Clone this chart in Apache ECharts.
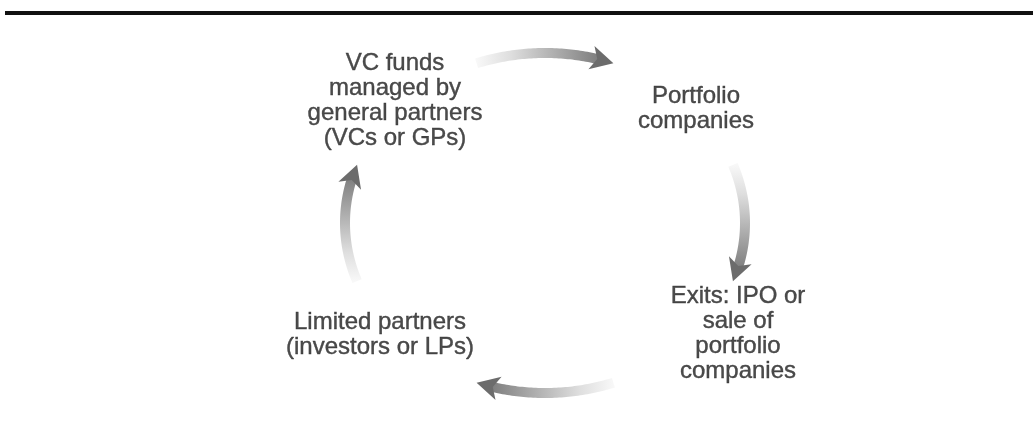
<!DOCTYPE html>
<html>
<head>
<meta charset="utf-8">
<script src="https://cdn.jsdelivr.net/npm/echarts@6/dist/echarts.min.js"></script>
<style>
  html, body { margin: 0; padding: 0; background: #fff; }
  #main { width: 1033px; height: 446px; }
</style>
</head>
<body>
<div id="main"></div>
<script>
// the four stages of the cycle, clockwise from top left
const nodeNames = [
  'VC funds\nmanaged by\ngeneral partners\n(VCs or GPs)',
  'Portfolio\ncompanies',
  'Exits: IPO or\nsale of\nportfolio\ncompanies',
  'Limited partners\n(investors or LPs)'
];
const nodeX = [-0.75, 0.755, 0.965, -0.825];
const nodeY = [0.72, 0.674, -0.655, -0.658];

// arrows between stages: start / end angle (degrees) on the cycle ellipse
const arrowFrom = [110, 20, -70, -160];
const arrowTo = [70, -20, -110, -200];

const chart = echarts.init(document.getElementById('main'));

function renderArrow(params, api) {
  const a0 = api.value(0) * Math.PI / 180;
  const a1 = api.value(1) * Math.PI / 180;
  const n = 60;
  const pts = [];
  for (let i = 0; i <= n; i++) {
    const a = a0 + (a1 - a0) * i / n;
    pts.push(api.coord([Math.cos(a), Math.sin(a)]));
  }
  const tip = pts[n];
  const headLen = 19, headHalf = 12;
  // walk back from the tip to find the base of the head
  let k = n;
  while (k > 0 && Math.hypot(pts[k][0] - tip[0], pts[k][1] - tip[1]) < headLen) k--;
  const base = pts[k];
  const len = Math.hypot(tip[0] - base[0], tip[1] - base[1]);
  const dx = (tip[0] - base[0]) / len, dy = (tip[1] - base[1]) / len;
  const shaft = pts.slice(0, k + 1);
  shaft.push([base[0] + dx * 5, base[1] + dy * 5]);
  const grad = new echarts.graphic.LinearGradient(
    pts[0][0], pts[0][1], tip[0], tip[1],
    [{ offset: 0, color: '#f8f8f8' }, { offset: 0.25, color: '#dedede' }, { offset: 1, color: '#6e6e6e' }], true);
  return {
    type: 'group',
    children: [
      {
        type: 'polyline',
        shape: { points: shaft },
        style: { stroke: grad, lineWidth: 10, fill: null, lineCap: 'butt' }
      },
      {
        type: 'polygon',
        shape: {
          points: [
            tip,
            [base[0] - dy * headHalf - dx * 2, base[1] + dx * headHalf - dy * 2],
            [base[0] + dx * 4, base[1] + dy * 4],
            [base[0] + dy * headHalf - dx * 2, base[1] - dx * headHalf - dy * 2]
          ]
        },
        style: { fill: '#6c6c6c' }
      }
    ]
  };
}

const option = {
  backgroundColor: '#fff',
  animation: false,
  grid: { left: 345, top: 53, width: 400, height: 340 },
  xAxis: { type: 'value', min: -1, max: 1, show: false },
  yAxis: { type: 'value', min: -1, max: 1, show: false },
  graphic: [
    {
      type: 'line',
      shape: { x1: 5, y1: 13, x2: 1033, y2: 13 },
      style: { stroke: '#111', lineWidth: 4 }
    }
  ],
  series: [
    {
      type: 'custom',
      clip: false,
      renderItem: renderArrow,
      data: arrowFrom.map((f, i) => [f, arrowTo[i]])
    },
    {
      type: 'scatter',
      symbolSize: 0,
      label: {
        show: true,
        position: 'inside',
        formatter: p => p.name,
        color: '#1e1e1e',
        textBorderColor: '#1e1e1e',
        textBorderWidth: 0.4,
        fontFamily: 'Liberation Sans, Arial, sans-serif',
        fontSize: 24,
        lineHeight: 25,
        align: 'center'
      },
      data: nodeNames.map((name, i) => ({ name: name, value: [nodeX[i], nodeY[i]] }))
    }
  ]
};

chart.setOption(option);
</script>
</body>
</html>
